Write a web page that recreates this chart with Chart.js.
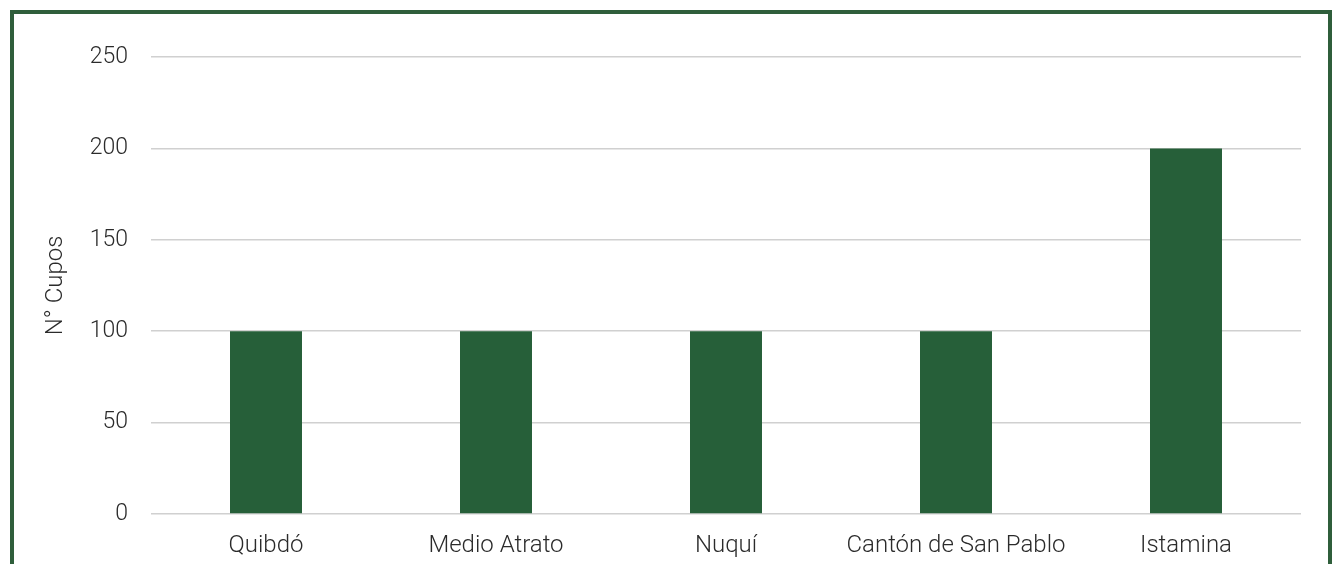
<!DOCTYPE html>
<html>
<head>
<meta charset="utf-8">
<script src="https://cdn.jsdelivr.net/npm/chart.js@4.4.0/dist/chart.umd.min.js"></script>
<style>
    html, body { margin: 0; padding: 0; background: #fff; overflow: hidden; }
    #wrap { position: relative; width: 1333px; height: 564px; }
    #frame {
        position: absolute; left: 10px; top: 10px;
        width: 1314px; height: 600px;
        border: 4px solid #2f5e3b;
        pointer-events: none;
    }
    canvas { position: absolute; left: 0; top: 0; }
</style>
</head>
<body>
<div id="wrap">
    <canvas id="bar-chart" width="1333" height="564"></canvas>
    <div id="frame"></div>
</div>
<script>
const categories = ["Quibdó", "Medio Atrato", "Nuquí", "Cantón de San Pablo", "Istamina"];
const cupos = [100, 100, 100, 100, 200];
const y_ticks = [0, 50, 100, 150, 200, 250];

const bar_colour = "#265f39";
const text_colour = "#2b2b2b";
const label_font = { family: "Roboto", weight: 300, size: 24 };

const config_bar = {
    type: 'bar',
    data: {
        labels: categories,
        datasets: [{
            label: "N° Cupos",
            data: cupos,
            backgroundColor: bar_colour,
            borderWidth: 0,
            barPercentage: 0.313,
            categoryPercentage: 1
        }]
    },
    options: {
        responsive: false,
        animation: false,
        layout: {
            padding: { left: 0, right: 32, top: 57, bottom: 0 }
        },
        plugins: {
            legend: { display: false },
            tooltip: { enabled: false }
        },
        scales: {
            x: {
                grid: { display: false, drawTicks: false },
                border: { display: false },
                ticks: {
                    color: text_colour,
                    padding: 18,
                    font: label_font
                },
                afterFit: (scale) => { scale.height = 50; }
            },
            y: {
                min: 0,
                max: 250,
                afterBuildTicks: (scale) => {
                    scale.ticks = y_ticks.map(v => ({ value: v }));
                },
                grid: { color: "#d0d0d0", lineWidth: 1.5, drawTicks: false },
                border: { display: false },
                ticks: {
                    color: text_colour,
                    padding: 23,
                    font: { family: "Roboto", weight: 300, size: 23 }
                },
                title: {
                    display: true,
                    text: "N° Cupos",
                    color: text_colour,
                    padding: { top: 42, bottom: 0 },
                    font: label_font
                },
                afterFit: (scale) => { scale.width = 151; }
            }
        }
    }
};

const ctx = document.getElementById("bar-chart").getContext('2d');
const bar_chart = new Chart(ctx, config_bar);
</script>
</body>
</html>
